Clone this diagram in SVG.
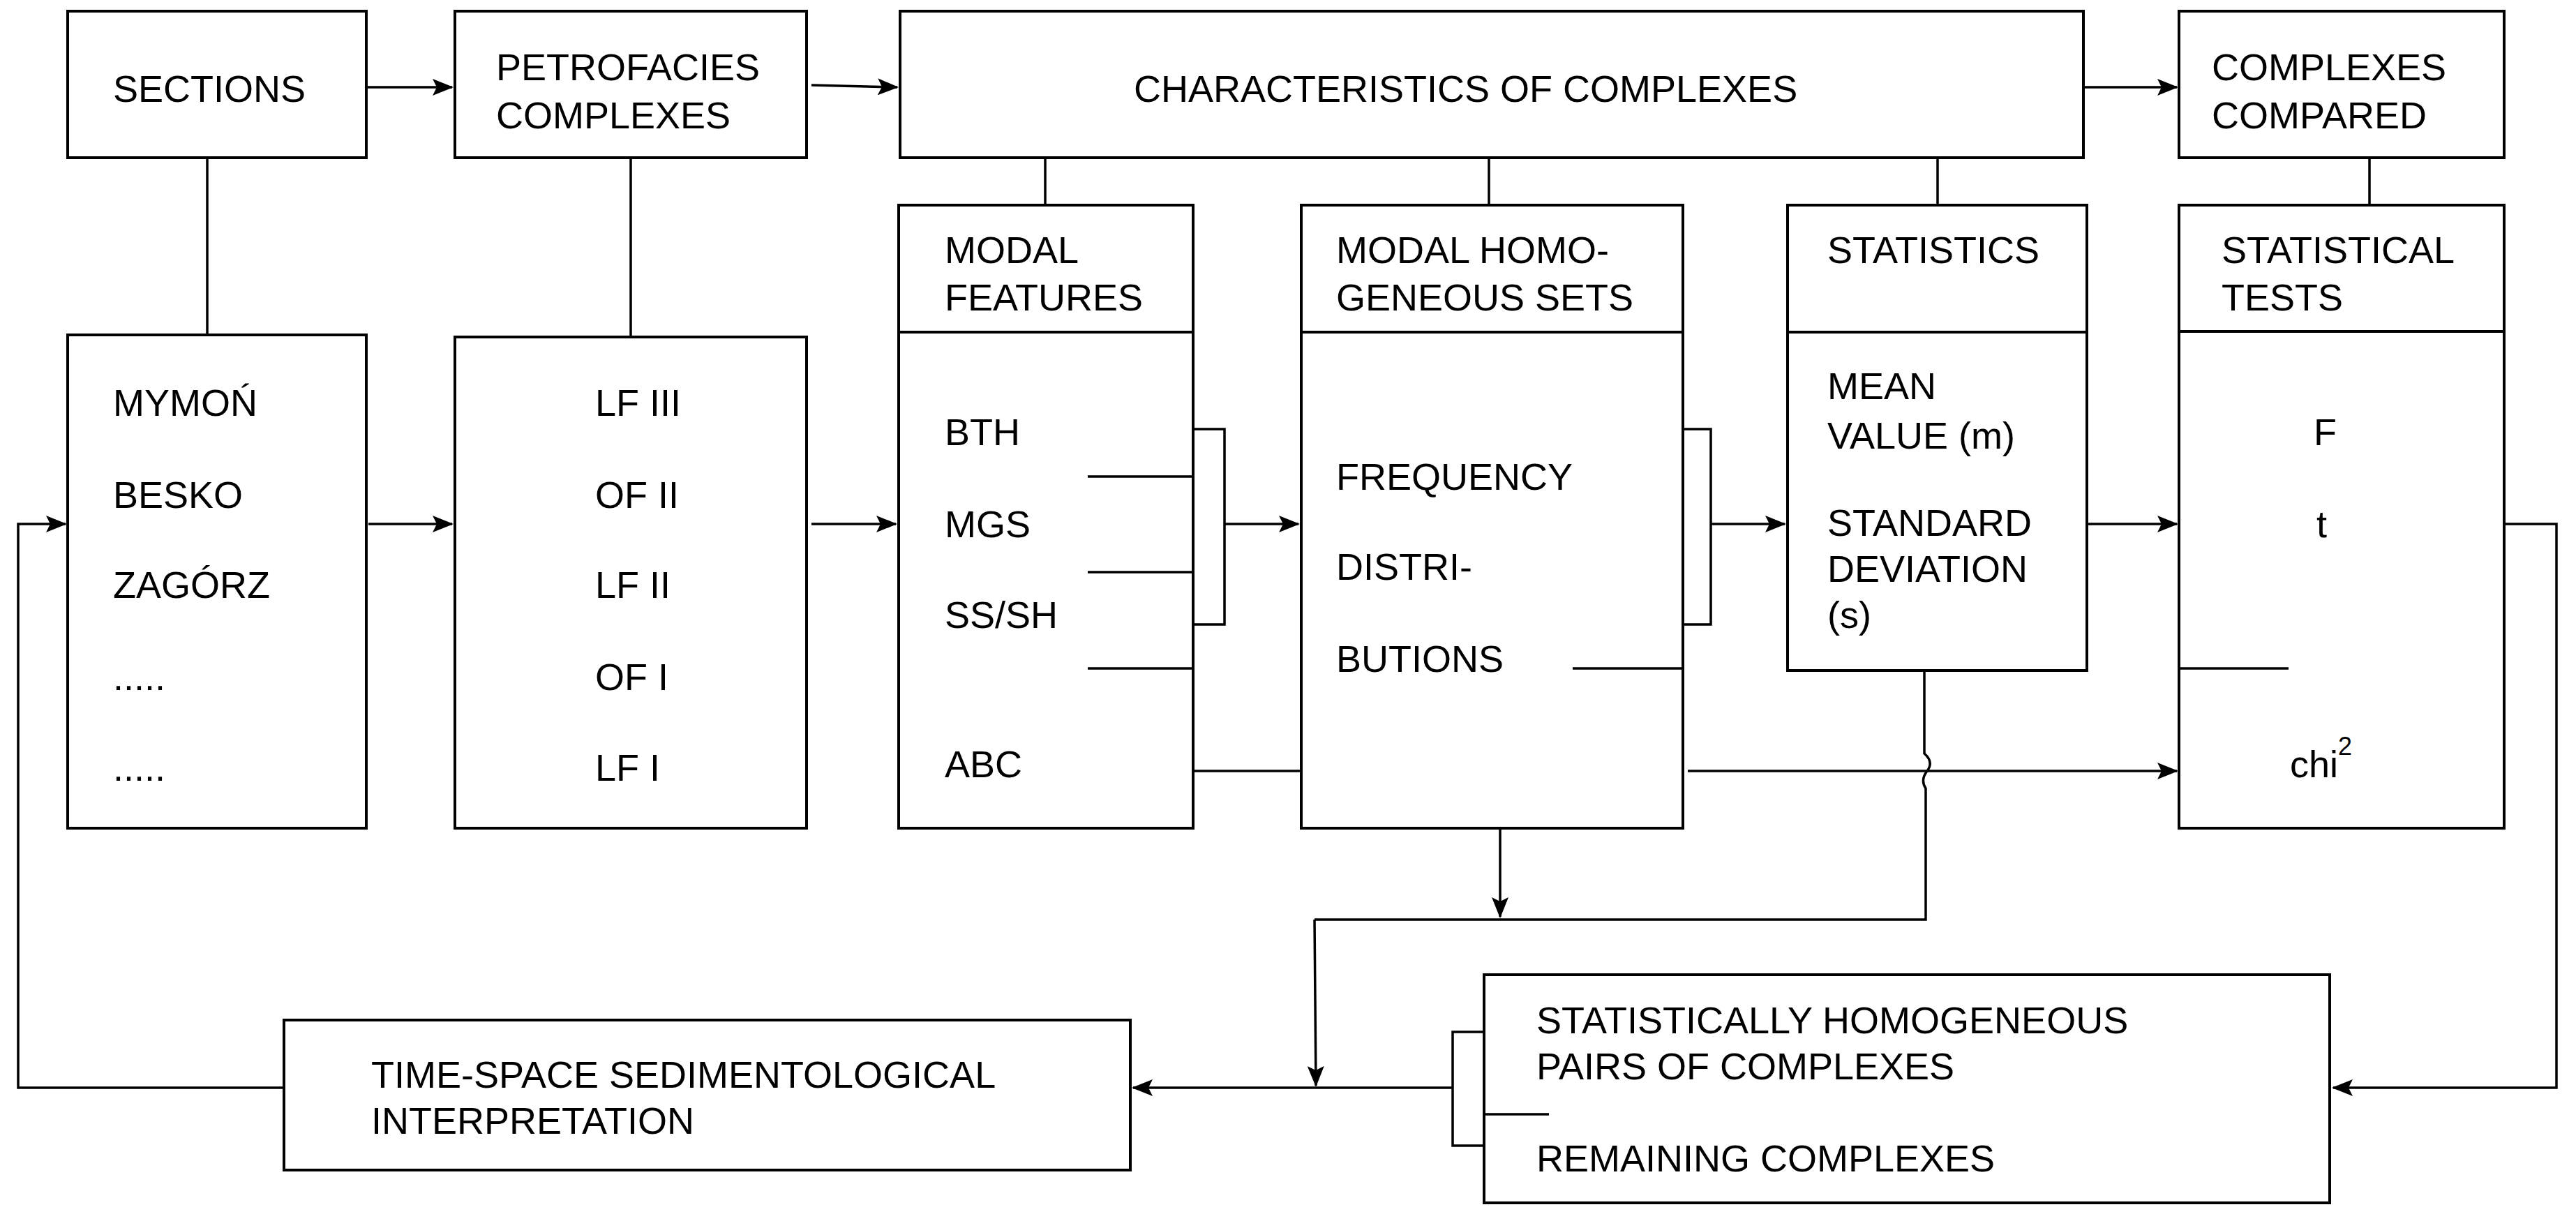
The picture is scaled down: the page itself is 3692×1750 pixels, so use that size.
<svg xmlns="http://www.w3.org/2000/svg" width="3692" height="1750" viewBox="0 0 3692 1750">
<style>
rect,.b{fill:none;stroke:#000;stroke-width:4}
.c{fill:none;stroke:#000;stroke-width:3.5}
text{font-family:"Liberation Sans",Arial,sans-serif;font-size:54px;fill:#000}
</style>
<defs><marker id="a" markerWidth="10" markerHeight="8" refX="9" refY="4" orient="auto" markerUnits="userSpaceOnUse" viewBox="0 0 10 8"><path d="M0,0 L10,4 L0,8 L2,4 Z" fill="#000" transform="scale(1)"/></marker>
<marker id="m" markerWidth="30" markerHeight="24" refX="28" refY="12" orient="auto" markerUnits="userSpaceOnUse"><path d="M0,0 L30,12 L0,24 L6,12 Z" fill="#000"/></marker></defs>
<rect width="3692" height="1750" fill="#fff" style="stroke:none"/>
<g id="sections"><rect x="97" y="16" width="428" height="210"/><text x="162" y="146">SECTIONS</text></g>
<g id="petro"><rect x="652" y="16" width="504" height="210"/><text x="711" y="115">PETROFACIES</text><text x="711" y="184">COMPLEXES</text></g>
<g id="charac"><rect x="1290" y="16" width="1696" height="210"/><text x="1625" y="146">CHARACTERISTICS OF COMPLEXES</text></g>
<g id="compared"><rect x="3123" y="16" width="466" height="210"/><text x="3170" y="115">COMPLEXES</text><text x="3170" y="184">COMPARED</text></g>
<g id="seclist"><rect x="97" y="480" width="428" height="707"/><text x="162" y="596">MYMOŃ</text><text x="162" y="728">BESKO</text><text x="162" y="857">ZAGÓRZ</text><text x="162" y="989">.....</text><text x="162" y="1119">.....</text></g>
<g id="lflist"><rect x="652" y="483" width="504" height="704"/><text x="853" y="596">LF III</text><text x="853" y="728">OF II</text><text x="853" y="857">LF II</text><text x="853" y="989">OF I</text><text x="853" y="1119">LF I</text></g>
<g id="modal"><rect x="1288" y="294" width="422" height="893"/><path class="b" d="M1288,476H1710"/><text x="1354" y="377">MODAL</text><text x="1354" y="445">FEATURES</text><text x="1354" y="638">BTH</text><text x="1354" y="770">MGS</text><text x="1354" y="900">SS/SH</text><text x="1354" y="1114">ABC</text></g>
<g id="mhs"><rect x="1865" y="294" width="547" height="893"/><path class="b" d="M1865,476H2412"/><text x="1915" y="377">MODAL HOMO-</text><text x="1915" y="445">GENEOUS SETS</text><text x="1915" y="702">FREQUENCY</text><text x="1915" y="831">DISTRI-</text><text x="1915" y="963">BUTIONS</text></g>
<g id="stats"><rect x="2562" y="294" width="429" height="667"/><path class="b" d="M2562,476H2991"/><text x="2619" y="377">STATISTICS</text><text x="2619" y="572">MEAN</text><text x="2619" y="643">VALUE (m)</text><text x="2619" y="768">STANDARD</text><text x="2619" y="834">DEVIATION</text><text x="2619" y="900">(s)</text></g>
<g id="tests"><rect x="3123" y="294" width="466" height="893"/><path class="b" d="M3123,475H3589"/><text x="3184" y="377">STATISTICAL</text><text x="3184" y="445">TESTS</text><text x="3316" y="638">F</text><text x="3320" y="770">t</text><text x="3282" y="1114">chi<tspan dy="-32" font-size="36">2</tspan></text></g>
<g id="homog"><rect x="2127" y="1397" width="1212" height="327"/><text x="2202" y="1481">STATISTICALLY HOMOGENEOUS</text><text x="2202" y="1547">PAIRS OF COMPLEXES</text><text x="2202" y="1679">REMAINING COMPLEXES</text></g>
<g id="interp"><rect x="407" y="1462" width="1213" height="215"/><text x="532" y="1559">TIME-SPACE SEDIMENTOLOGICAL</text><text x="532" y="1625">INTERPRETATION</text></g>
<g id="connectors">
<path class="c" d="M297,226V480M904,226V483M1498,226V294M2134,226V294M2777,226V294M3396,226V294"/>
<path class="c" marker-end="url(#m)" d="M525,125H648"/>
<path class="c" marker-end="url(#m)" d="M1163,122L1286,125"/>
<path class="c" marker-end="url(#m)" d="M2986,125H3120"/>
<path class="c" marker-end="url(#m)" d="M528,751H648"/>
<path class="c" marker-end="url(#m)" d="M1163,751H1284"/>
<path class="c" d="M1559,683H1710M1559,820H1710M1559,958H1710M1710,615H1755V895H1710"/>
<path class="c" marker-end="url(#m)" d="M1755,751H1861"/>
<path class="c" d="M1710,1105H1865"/>
<path class="c" d="M2254,958H2412M2412,615H2452V895H2412"/>
<path class="c" marker-end="url(#m)" d="M2452,751H2558"/>
<path class="c" marker-end="url(#m)" d="M2993,751H3120"/>
<path class="c" d="M3123,958H3280"/>
<path class="c" marker-end="url(#m)" d="M2419,1105H3120"/>
<path class="c" d="M2758,961V1080Q2772,1092 2762,1105Q2752,1118 2760,1130V1318H1884"/>
<path class="c" marker-end="url(#m)" d="M1884,1318L1886,1556"/>
<path class="c" marker-end="url(#m)" d="M2150,1187V1314"/>
<path class="c" marker-end="url(#m)" d="M3589,751H3664V1559H3344"/>
<path class="c" d="M2127,1479H2082V1642H2127M2127,1597H2220"/>
<path class="c" marker-end="url(#m)" d="M2082,1559H1624"/>
<path class="c" marker-end="url(#m)" d="M407,1559H26V751H94"/>
</g>
</svg>
